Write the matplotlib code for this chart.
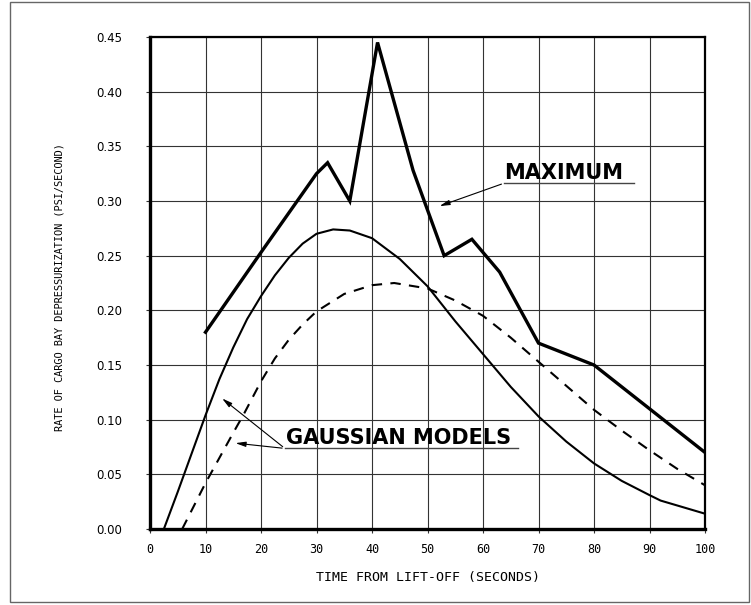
import matplotlib
matplotlib.use("Agg")
import matplotlib.pyplot as plt
from matplotlib.patches import Rectangle

# data
max_t = [10, 20, 30, 32, 36, 41, 47.4, 53, 58, 63, 70, 80, 90, 100]
max_rate = [0.18, 0.253, 0.325, 0.335, 0.30, 0.445, 0.328, 0.25, 0.265, 0.235, 0.17, 0.15, 0.11, 0.07]

gauss1_t = [2.5, 5, 10, 12.5, 15, 17.5, 20, 22.5, 25, 27.5, 30, 33, 36, 40, 45, 50, 55, 60, 65, 70, 75, 80,
            85, 90, 92, 96, 100]
gauss1_rate = [0.0, 0.034, 0.104, 0.137, 0.166, 0.192, 0.213, 0.232, 0.248, 0.261, 0.27, 0.274, 0.273, 0.266,
               0.247, 0.222, 0.19, 0.16, 0.13, 0.103, 0.08, 0.06, 0.044, 0.031, 0.026, 0.02, 0.014]

gauss2_t = [5.8, 10, 15, 17, 20, 22.5, 25, 27.5, 30, 35, 40, 44, 50, 55, 60, 65, 70, 75, 80, 85, 90, 95, 100]
gauss2_rate = [0.0, 0.042, 0.088, 0.106, 0.135, 0.156, 0.173, 0.187, 0.199, 0.215, 0.223, 0.225, 0.220, 0.209,
               0.195, 0.175, 0.153, 0.131, 0.109, 0.09, 0.072, 0.055, 0.04]

x_ticks = list(range(0, 101, 10))
y_ticks = [0.00, 0.05, 0.10, 0.15, 0.20, 0.25, 0.30, 0.35, 0.40, 0.45]

fig = plt.figure(figsize=(7.51, 6.05), dpi=100)
ax = fig.add_axes([150 / 751, 76 / 605, 555 / 751, 492 / 605])

# outer frame round the whole figure
fig.patches.append(Rectangle((10 / 751, 3 / 605), 739 / 751, 600 / 605, transform=fig.transFigure,
                             fill=False, edgecolor='#666666', linewidth=1))

ax.plot(max_t, max_rate, color='black', linewidth=2.4, solid_joinstyle='miter')
ax.plot(gauss1_t, gauss1_rate, color='black', linewidth=1.5)
ax.plot(gauss2_t, gauss2_rate, color='black', linewidth=1.5, dashes=(5, 4))

ax.set_xlim(0, 100)
ax.set_ylim(0, 0.45)
ax.set_xticks(x_ticks)
ax.set_yticks(y_ticks)
ax.set_xticklabels([str(v) for v in x_ticks], family='DejaVu Sans Mono', fontsize=8.5)
ax.set_yticklabels([f'{v:.2f}' for v in y_ticks], family='DejaVu Sans', fontsize=8.5)
ax.tick_params(axis='both', direction='out', length=3, width=0.8, color='#333333')
ax.tick_params(axis='y', pad=17)
ax.tick_params(axis='x', pad=7)
ax.grid(True, color='#333333', linewidth=0.8)
ax.set_axisbelow(True)

for side in ['left', 'bottom']:
    ax.spines[side].set_linewidth(2.4)
for side in ['top', 'right']:
    ax.spines[side].set_linewidth(1.6)

ax.set_xlabel('TIME FROM LIFT-OFF (SECONDS)', family='DejaVu Sans Mono', fontsize=9.5)
ax.xaxis.set_label_coords(0.5, -48 / 492, transform=ax.transAxes)
ax.xaxis.label.set_va('center')
ax.set_ylabel('RATE OF CARGO BAY DEPRESSURIZATION (PSI/SECOND)', family='DejaVu Sans Mono', fontsize=7.4)
ax.yaxis.set_label_coords(-90 / 555, 0.492, transform=ax.transAxes)
ax.yaxis.label.set_va('center')

# labels with underline and arrows
ax.text(63.8, 0.3205, 'MAXIMUM', fontsize=15, fontweight='bold', family='DejaVu Sans', va='baseline')
ax.plot([63.8, 87.2], [0.3163, 0.3163], color='#444444', linewidth=1)
ax.annotate('', xy=(51.7, 0.2945), xytext=(63.8, 0.3163),
            arrowprops=dict(arrowstyle='-|>,head_length=0.6,head_width=0.15', color='black', linewidth=0.8))

ax.text(24.5, 0.0776, 'GAUSSIAN MODELS', fontsize=15, fontweight='bold', family='DejaVu Sans', va='baseline')
ax.plot([24.3, 66.3], [0.0737, 0.0737], color='#444444', linewidth=1)
ax.annotate('', xy=(12.6, 0.121), xytext=(24.3, 0.0737),
            arrowprops=dict(arrowstyle='-|>,head_length=0.6,head_width=0.15', color='black', linewidth=0.8))
ax.annotate('', xy=(14.9, 0.0788), xytext=(24.3, 0.0737),
            arrowprops=dict(arrowstyle='-|>,head_length=0.6,head_width=0.15', color='black', linewidth=0.8))

fig.savefig('out.png', dpi=100)
